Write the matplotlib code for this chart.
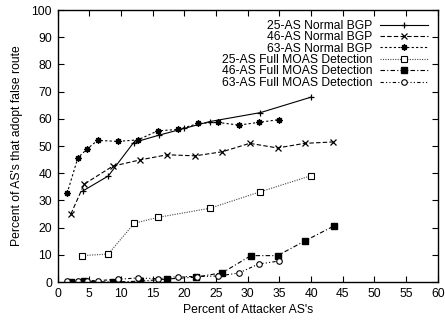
import numpy as np
import matplotlib
matplotlib.use("Agg")
import matplotlib.pyplot as plt

plt.rcParams['font.family'] = ['Liberation Sans', 'DejaVu Sans']

# percent of attacker AS's (x) and percent adopting false route (y)
x_25_bgp = [4.0, 8.0, 12.0, 16.0, 20.0, 24.0, 32.0, 40.0]
y_25_bgp = [33.5, 39.0, 51.3, 54.0, 56.5, 59.0, 62.3, 68.0]

x_46_bgp = [2.1, 4.2, 8.7, 13.0, 17.3, 21.7, 26.0, 30.3, 34.7, 39.0, 43.4]
y_46_bgp = [25.0, 36.0, 42.6, 44.9, 46.8, 46.4, 47.9, 51.0, 49.3, 51.0, 51.5]

x_63_bgp = [1.5, 3.2, 4.7, 6.3, 9.5, 12.7, 15.8, 19.0, 22.2, 25.3, 28.6, 31.7, 34.9]
y_63_bgp = [32.6, 45.7, 49.0, 52.1, 51.7, 52.3, 55.6, 56.1, 58.3, 58.7, 57.7, 58.7, 59.7]

x_25_moas = [3.9, 8.0, 12.1, 15.9, 24.0, 32.0, 40.0]
y_25_moas = [9.7, 10.3, 21.6, 23.8, 27.1, 33.2, 39.1]

x_46_moas = [2.1, 4.2, 8.7, 13.0, 17.3, 21.8, 26.0, 30.5, 34.7, 39.1, 43.6]
y_46_moas = [0.0, 0.2, 0.0, 0.3, 1.1, 1.8, 3.4, 9.7, 9.7, 15.2, 20.6]

x_63_moas = [1.5, 3.2, 4.7, 6.3, 9.5, 12.7, 15.8, 19.0, 22.0, 25.3, 28.6, 31.7, 34.9]
y_63_moas = [0.5, 0.5, 0.5, 0.5, 1.0, 1.5, 1.2, 2.0, 2.0, 2.2, 3.3, 6.6, 7.7]

fig = plt.figure(figsize=(4.45, 3.25), dpi=100)
ax = fig.add_axes([0.1294, 0.1323, 0.8546, 0.8366])

lw = 0.8
ax.plot(x_25_bgp, y_25_bgp, color='black', lw=lw, ls='-', marker='+', ms=5,
        mew=0.9, label='25-AS Normal BGP')
ax.plot(x_46_bgp, y_46_bgp, color='black', lw=lw, ls=(0, (4, 2)), marker='x', ms=4,
        mew=0.9, label='46-AS Normal BGP')
ax.plot(x_63_bgp, y_63_bgp, color='black', lw=lw, ls=(0, (2, 2)), marker=(8, 2, 0), ms=4.5,
        mew=1.0, label='63-AS Normal BGP')
ax.plot(x_25_moas, y_25_moas, color='#444444', lw=lw, ls=(0, (1, 1.2)), marker='s', ms=4,
        mfc='white', mec='black', mew=0.8, label='25-AS Full MOAS Detection')
ax.plot(x_46_moas, y_46_moas, color='black', lw=lw, ls=(0, (4, 2, 1, 2)), marker='s', ms=4.5,
        mfc='black', mec='black', label='46-AS Full MOAS Detection')
ax.plot(x_63_moas, y_63_moas, color='black', lw=lw, ls=(0, (3, 2, 1, 2, 1, 2)), marker='o', ms=4,
        mfc='white', mec='black', mew=0.8, label='63-AS Full MOAS Detection')

ax.set_xlim(0, 60)
ax.set_ylim(0, 100)
ax.set_xticks(np.arange(0, 61, 5))
ax.set_yticks(np.arange(0, 101, 10))
ax.tick_params(direction='in', top=True, right=True, length=4.5, width=0.8,
               labelsize=8.7, pad=4)
for s in ax.spines.values():
    s.set_linewidth(1.0)

ax.set_xlabel("Percent of Attacker AS's", fontsize=8.7, labelpad=3)
ax.set_ylabel("Percent of AS's that adopt false route", fontsize=8.7, labelpad=6)

ax.legend(loc='upper right', frameon=False, markerfirst=False, fontsize=8.7,
          handlelength=4.0, handletextpad=0.6, labelspacing=-0.05,
          borderaxespad=0.4, borderpad=0.4)

fig.savefig('out.png', dpi=100)
